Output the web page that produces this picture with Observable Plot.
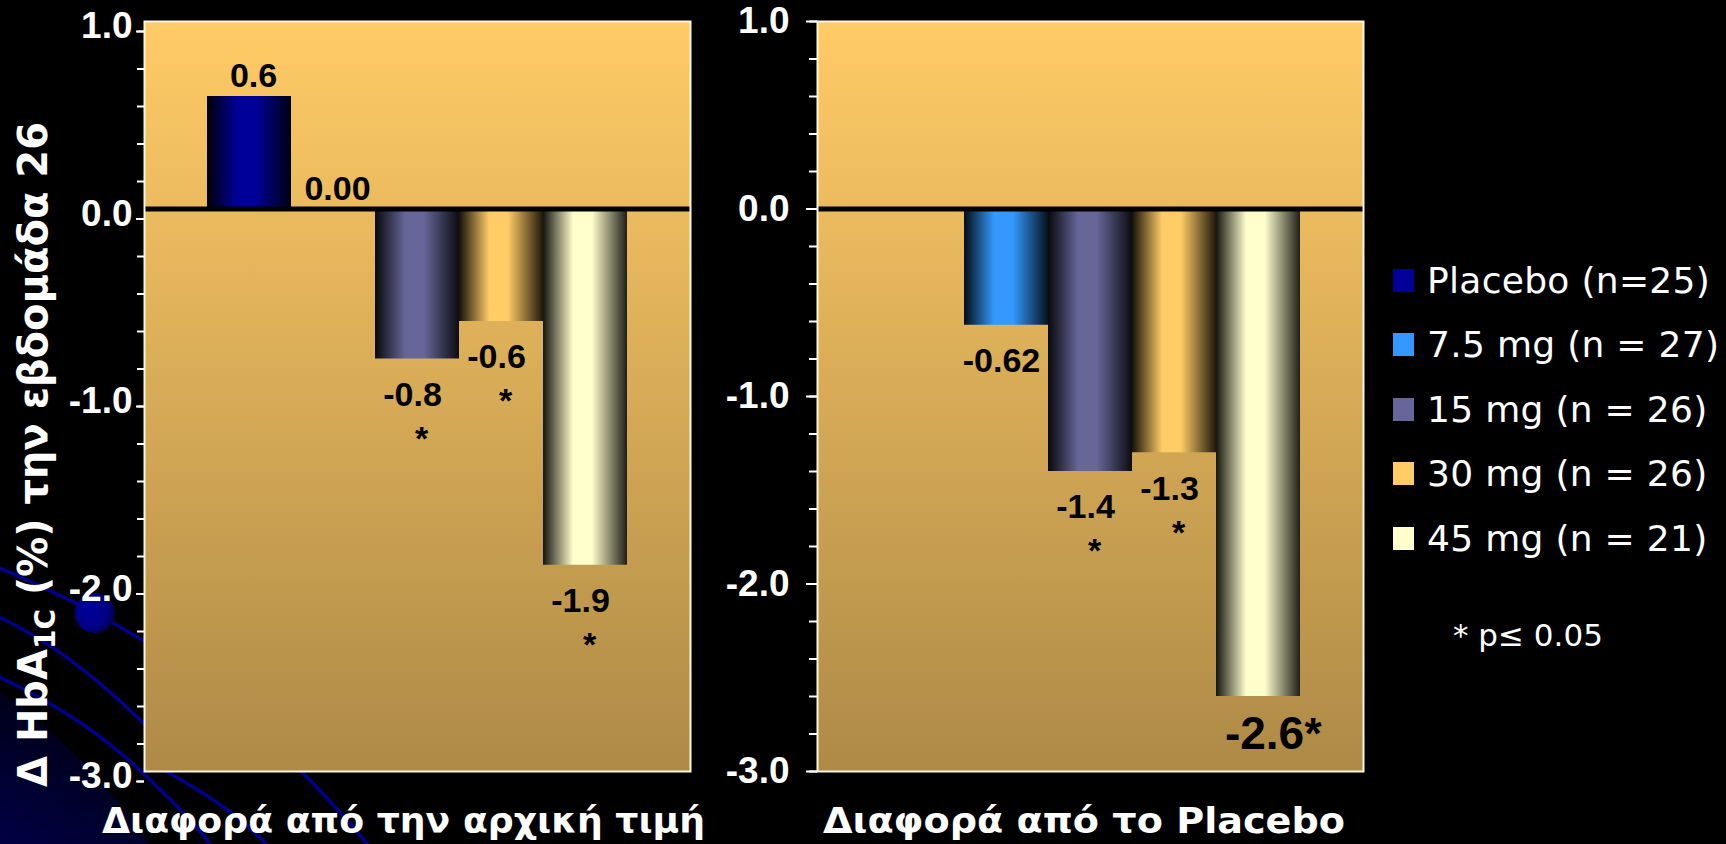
<!DOCTYPE html>
<html>
<head>
<meta charset="utf-8">
<script src="https://cdn.jsdelivr.net/npm/d3@7"></script>
<script src="https://cdn.jsdelivr.net/npm/@observablehq/plot@0.6"></script>
<style>
  html, body { margin: 0; padding: 0; background: #000; }
  #stage { position: relative; width: 1726px; height: 844px; overflow: hidden; background: #000; }
  .layer { position: absolute; left: 0; top: 0; }
  .legend-row { position: absolute; display: flex; align-items: center; height: 40px;
    font-family: "DejaVu Sans", sans-serif; font-size: 36px; letter-spacing: 0.3px; color: #fff; white-space: nowrap; }
  .legend-swatch { width: 21px; height: 23px; margin-right: 13px; flex: none; }
  .footnote { position: absolute; font-family: "DejaVu Sans", sans-serif; font-size: 31px; color: #fff; white-space: nowrap; }
</style>
</head>
<body>
<div id="stage"></div>
<script>
// Treatment groups and their legend entries
const series = ["Placebo", "7.5 mg", "15 mg", "30 mg", "45 mg"];
const legendLabels = ["Placebo (n=25)", "7.5 mg (n = 27)", "15 mg (n = 26)", "30 mg (n = 26)", "45 mg (n = 21)"];
const seriesColors = ["#000099", "#3399FF", "#666699", "#FFCC66", "#FFFFCC"];

// Change in HbA1c from baseline at week 26
const baselineChange = [0.6, 0.00, -0.8, -0.6, -1.9];
const baselineLabels = ["0.6", "0.00", "-0.8", "-0.6", "-1.9"];
const baselineSignificant = [false, false, true, true, true];

// Difference versus placebo
const placeboDiff = [null, -0.62, -1.4, -1.3, -2.6];
const placeboLabels = [null, "-0.62", "-1.4", "-1.3", "-2.6"];
const placeboSignificant = [false, false, true, true, true];

// Axis ticks
const majorTicks = [1, 0, -1, -2, -3];
const minorTicks = d3.range(-15, 6).map(i => i / 5);

// Titles
const yTitleParts = ["Δ HbA", "1C", " (%) την εβδομάδα 26"];
const panelTitles = ["Διαφορά από την αρχική τιμή", "Διαφορά από το Placebo"];
const footnote = "* p≤ 0.05";

const stage = d3.select("#stage");

// ---- background ornament (template swirls in the lower-left corner) ----
const deco = stage.append("svg").attr("class", "layer").attr("width", 1726).attr("height", 844);
const ddefs = deco.append("defs");
const glow = ddefs.append("linearGradient").attr("id", "corner-glow")
  .attr("x1", 0).attr("y1", 1).attr("x2", 0.6).attr("y2", 0);
glow.append("stop").attr("offset", 0).attr("stop-color", "#000045");
glow.append("stop").attr("offset", 1).attr("stop-color", "#00000c");
const dot = ddefs.append("radialGradient").attr("id", "dot-fill").attr("cx", 0.35).attr("cy", 0.45).attr("r", 0.7);
dot.append("stop").attr("offset", 0).attr("stop-color", "#000099");
dot.append("stop").attr("offset", 0.6).attr("stop-color", "#000088");
dot.append("stop").attr("offset", 1).attr("stop-color", "#000040");
deco.append("path").attr("d", "M0,692 Q80,745 150,844 L0,844 Z").attr("fill", "url(#corner-glow)");
const swirl = deco.append("g").attr("fill", "none").attr("stroke", "#00008f").attr("stroke-width", 3.5);
[
  "M-5,566 C40,585 70,600 95,613 S140,640 170,655",
  "M-5,615 C40,636 90,668 160,740",
  "M-5,675 C60,705 105,737 145,775 S195,825 215,850",
  "M150,762 C175,776 200,790 222,806 S255,832 272,850",
  "M292,762 C318,788 344,815 372,850"
].forEach(d => swirl.append("path").attr("d", d));
deco.append("circle").attr("cx", 95).attr("cy", 613).attr("r", 20).attr("fill", "url(#dot-fill)");

// ---- one bar panel ----
function drawPanel(cfg) {
  const rows = series.map((s, i) => ({series: s, value: cfg.values[i], label: cfg.labels[i], star: cfg.significant[i]}))
    .filter(d => d.value != null);
  const minValue = d3.min(rows, d => d.value);
  const isBig = d => cfg.emphasizeMin && d.value === minValue;
  const pos = rows.filter(d => d.value >= 0);
  const neg = rows.filter(d => d.value < 0 && !isBig(d));
  const big = rows.filter(isBig);
  const id = cfg.id;

  // gradients: warm vertical panel wash, cylinder shading on bars
  const defs = () => {
    const g = d3.create("svg:defs");
    const bg = g.append("linearGradient").attr("id", `${id}-bg`).attr("x1", 0).attr("x2", 0).attr("y1", 0).attr("y2", 1);
    bg.append("stop").attr("offset", 0).attr("stop-color", "#FFCB66");
    bg.append("stop").attr("offset", 1).attr("stop-color", "#AE8A47");
    seriesColors.forEach((c, i) => {
      const lg = g.append("linearGradient").attr("id", `${id}-bar${i}`)
        .attr("x1", 0).attr("x2", 1).attr("y1", 0).attr("y2", 0);
      const dark = d3.interpolateRgb("#000", c);
      [[0, dark(0.08)], [0.36, c], [0.58, c], [1, dark(0.12)]]
        .forEach(([o, col]) => lg.append("stop").attr("offset", o).attr("stop-color", col));
    });
    return g.node();
  };

  const label = {x: "series", y: "value", text: "label", fill: "black"};
  const svg = Plot.plot({
    width: cfg.width,
    height: 800,
    marginLeft: cfg.marginLeft,
    marginRight: cfg.width - cfg.marginLeft - 546,
    marginTop: 21,
    marginBottom: 29,
    style: {
      background: "transparent", color: "white", overflow: "visible", maxWidth: "none",
      fontFamily: "'Liberation Sans', Arial, sans-serif", fontSize: "34px", fontWeight: "bold"
    },
    x: {domain: series, paddingInner: 0, paddingOuter: 0.75, axis: null},
    y: {domain: [-3, 1], label: null, axis: null},
    color: {type: "ordinal", domain: series, range: series.map((s, i) => `url(#${id}-bar${i})`)},
    marks: [
      defs,
      Plot.frame({fill: `url(#${id}-bg)`, stroke: "none"}),
      Plot.barY(rows, {x: "series", y: "value", fill: "series"}),
      Plot.ruleY([0], {stroke: "black", strokeWidth: 5}),
      Plot.frame({stroke: "#FFF6DE", strokeWidth: 2}),
      Plot.axisY(minorTicks, {tickSize: cfg.minorTick, strokeWidth: 2, fill: "none", label: null, dy: cfg.tickShift}),
      Plot.axisY(majorTicks, {tickSize: cfg.majorTick, strokeWidth: 2, fill: "none", label: null, dy: cfg.tickShift}),
      Plot.axisY(majorTicks, {tickSize: 0, tickPadding: cfg.tickPadding, stroke: "none", fill: "white",
        tickFormat: d => d.toFixed(1), label: null, dy: cfg.labelShift}),
      Plot.text(pos, {...label, dy: -20, dx: 4}),
      Plot.text(neg, {...label, dy: 36, dx: -5}),
      Plot.text(neg.filter(d => d.star), {x: "series", y: "value", text: () => "*", fill: "black", dy: 80, dx: 4}),
      Plot.text(big, {...label, fontSize: 46, dy: 38, dx: 6}),
      Plot.text(big.filter(d => d.star), {x: "series", y: "value", text: () => "*", fill: "black",
        fontSize: 44, dy: 38, dx: 46, textAnchor: "start"})
    ]
  });
  // slightly larger numerals on the value axis
  d3.select(svg).selectAll("[aria-label^='y-axis'] text").style("font-size", "37px");
  return svg;
}

const left = drawPanel({
  id: "base", values: baselineChange, labels: baselineLabels, significant: baselineSignificant,
  width: 720, marginLeft: 144, minorTick: 7, majorTick: 8, tickPadding: 12, tickShift: 10, labelShift: 5,
  emphasizeMin: false
});
const right = drawPanel({
  id: "plac", values: placeboDiff, labels: placeboLabels, significant: placeboSignificant,
  width: 680, marginLeft: 117, minorTick: 8, majorTick: 11, tickPadding: 28, tickShift: 0, labelShift: 0,
  emphasizeMin: true
});

stage.append("div").attr("class", "layer").style("left", "0px").node().appendChild(left);
stage.append("div").attr("class", "layer").style("left", "700px").node().appendChild(right);

// ---- axis titles ----
const over = stage.append("svg").attr("class", "layer").attr("width", 1726).attr("height", 844)
  .style("pointer-events", "none");
const yt = over.append("text")
  .attr("transform", "translate(47,787) rotate(-90)")
  .attr("fill", "white").attr("font-family", "'DejaVu Sans', sans-serif")
  .attr("font-weight", "bold").attr("font-size", 40);
yt.append("tspan").text(yTitleParts[0]);
yt.append("tspan").attr("font-size", 28).attr("dy", 8).text(yTitleParts[1]);
yt.append("tspan").attr("dy", -8).text(yTitleParts[2]);

const titleSpots = [{x: 102, len: 603}, {x: 823, len: 522}];
panelTitles.forEach((t, i) => {
  over.append("text")
    .attr("x", titleSpots[i].x).attr("y", 833)
    .attr("textLength", titleSpots[i].len).attr("lengthAdjust", "spacingAndGlyphs")
    .attr("fill", "white").attr("font-family", "'DejaVu Sans', sans-serif")
    .attr("font-weight", "bold").attr("font-size", 36)
    .text(t);
});

// ---- legend ----
legendLabels.forEach((t, i) => {
  const row = stage.append("div").attr("class", "legend-row")
    .style("left", "1393px").style("top", `${260 + i * 64.5}px`);
  row.append("div").attr("class", "legend-swatch").style("background", seriesColors[i]);
  row.append("span").text(t);
});
stage.append("div").attr("class", "footnote").style("left", "1453px").style("top", "617px").text(footnote);
</script>
</body>
</html>
